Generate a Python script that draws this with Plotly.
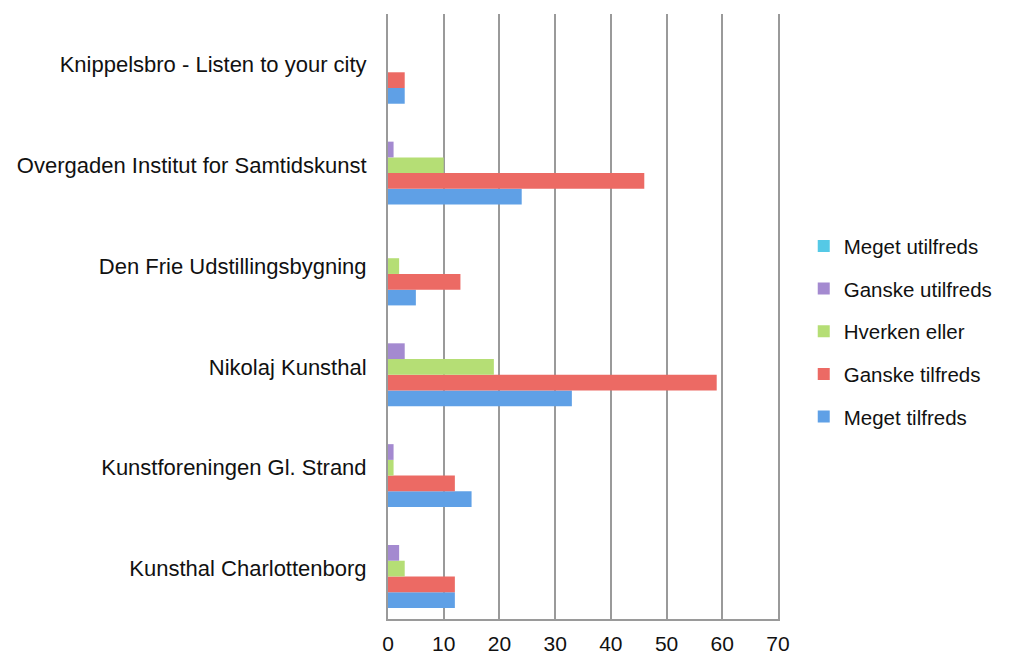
import plotly.graph_objects as go

# Categories (bottom to top, as plotted)
venues = [
    "Kunsthal Charlottenborg",
    "Kunstforeningen Gl. Strand",
    "Nikolaj Kunsthal",
    "Den Frie Udstillingsbygning",
    "Overgaden Institut for Samtidskunst",
    "Knippelsbro - Listen to your city",
]

meget_tilfreds = [12, 15, 33, 5, 24, 3]
ganske_tilfreds = [12, 12, 59, 13, 46, 3]
hverken_eller = [3, 1, 19, 2, 10, 0]
ganske_utilfreds = [2, 1, 3, 0, 1, 0]
meget_utilfreds = [0, 0, 0, 0, 0, 0]

series = [
    ("Meget tilfreds", meget_tilfreds, "#5fa0e6"),
    ("Ganske tilfreds", ganske_tilfreds, "#ec6a64"),
    ("Hverken eller", hverken_eller, "#b5de75"),
    ("Ganske utilfreds", ganske_utilfreds, "#a48ad0"),
    ("Meget utilfreds", meget_utilfreds, "#55c9e6"),
]

fig = go.Figure()
for i, (name, vals, col) in enumerate(series):
    fig.add_trace(go.Bar(
        y=venues, x=vals, name=name, orientation="h",
        marker=dict(color=col, line=dict(width=0)),
        legendgroup=str(i), legendrank=10 - i,
    ))

# page body adds an 8px margin, so the figure is sized/offset to suit
fig.update_layout(
    width=1002, height=651,
    barmode="group", bargap=0.22, bargroupgap=0,
    plot_bgcolor="white", paper_bgcolor="white",
    margin=dict(l=380, r=232, t=6, b=40, autoexpand=False),
    font=dict(family="Liberation Sans, Arial, sans-serif", size=22, color="#111"),
    legend=dict(
        x=1.066, y=0.475, xanchor="left", yanchor="middle",
        traceorder="grouped", tracegroupgap=13,
        font=dict(size=20.5), itemwidth=30,
    ),
    xaxis=dict(
        range=[0, 70], dtick=10, showgrid=True, gridcolor="#9a9a9a", gridwidth=2,
        showline=True, linecolor="#9a9a9a", linewidth=2, mirror=False,
        zeroline=False, ticks="", ticklabelstandoff=5, automargin=False,
        tickfont=dict(size=21),
    ),
    yaxis=dict(
        showline=True, linecolor="#9a9a9a", linewidth=2, mirror=True,
        showgrid=False, ticks="", ticklabelstandoff=15, automargin=False,
    ),
)

fig.write_html("out.html")
